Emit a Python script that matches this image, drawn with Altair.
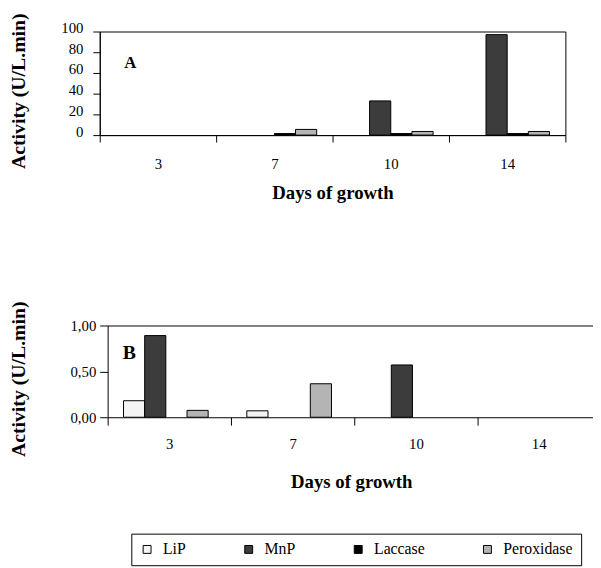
import altair as alt
import pandas as pd

FONT = "Liberation Serif"

days = ["3", "7", "10", "14"]
enzymes = ["LiP", "MnP", "Laccase", "Peroxidase"]
fills = ["#f4f4f4", "#3c3c3c", "#000000", "#b4b4b4"]

# Panel A: activity (U/L.min), one list per enzyme across days
a_lip = [0, 0, 0, 0]
a_mnp = [0, 0, 33, 97]
a_laccase = [0, 1.5, 1.5, 1.5]
a_perox = [0, 5.5, 3.5, 3.5]

# Panel B
b_lip = [0.18, 0.07, 0, 0]
b_mnp = [0.89, 0, 0.57, 0]
b_laccase = [0, 0, 0, 0]
b_perox = [0.075, 0.365, 0, 0]

a_ticks = [0, 20, 40, 60, 80, 100]
b_ticks = [0, 0.5, 1.0]


def table(series):
    rows = []
    for enz, vals in zip(enzymes, series):
        for d, v in zip(days, vals):
            rows.append({"day": d, "enzyme": enz, "value": v})
    return pd.DataFrame(rows)


df_a = table([a_lip, a_mnp, a_laccase, a_perox])
df_b = table([b_lip, b_mnp, b_laccase, b_perox])

fill_enc = alt.Fill(
    "enzyme:N",
    sort=enzymes,
    scale=alt.Scale(domain=enzymes, range=fills),
    legend=alt.Legend(
        title=None, orient="none", legendX=32, legendY=509,
        direction="horizontal", columns=4, columnPadding=55,
        symbolType="square", symbolSize=64, symbolStrokeColor="black",
        symbolStrokeWidth=1, labelFont=FONT, labelFontSize=16,
        labelColor="black", strokeColor="black", padding=8,
        labelOffset=8, fillColor="white",
    ),
)

base_axis = dict(
    labelFont=FONT, titleFont=FONT, labelColor="black", titleColor="black",
    domainColor="black", tickColor="black", labelFontSize=15,
    titleFontWeight="bold",
)

# ---------- Panel A ----------
bars_a = alt.Chart(df_a).transform_filter("datum.value > 0").mark_bar(
    stroke="black", strokeWidth=1
).encode(
    x=alt.X("day:N", sort=days, title="Days of growth",
            scale=alt.Scale(domain=days, paddingInner=0, paddingOuter=0),
            axis=alt.Axis(labelAngle=0, tickBand="extent", tickSize=7,
                          labelPadding=15, titleY=58, titleBaseline="middle",
                          titleFontSize=19, **base_axis)),
    y=alt.Y("value:Q", title="Activity (U/L.min)",
            scale=alt.Scale(domain=[0, 100], nice=False),
            axis=alt.Axis(values=a_ticks, tickSize=7, labelPadding=10, grid=False,
                          labelOffset=-4,
                          titleX=-82, titleY=60, titleBaseline="middle",
                          titleFontSize=20, **base_axis)),
    xOffset=alt.XOffset("enzyme:N", sort=enzymes,
                        scale=alt.Scale(domain=enzymes, paddingInner=0, paddingOuter=0.75)),
    fill=fill_enc,
)
label_a = alt.Chart(pd.DataFrame({"t": ["A"]})).mark_text(
    font=FONT, fontSize=17, fontWeight="bold", color="black"
).encode(x=alt.value(31), y=alt.value(32), text="t:N")

panel_a = alt.layer(bars_a, label_a).properties(
    width=472, height=105, view=alt.ViewBackground(stroke="black", strokeWidth=1)
)

# ---------- Panel B ----------
b_x_scale = alt.Scale(domain=days, paddingInner=0, paddingOuter=0, range=[8, 508])
bars_b = alt.Chart(df_b).transform_filter("datum.value > 0").mark_bar(
    stroke="black", strokeWidth=1
).encode(
    x=alt.X("day:N", sort=days, title="Days of growth", scale=b_x_scale,
            axis=alt.Axis(labelAngle=0, tickBand="extent", values=days[:3],
                          domain=False, tickSize=8, labelPadding=12, titleY=65,
                          titleX=255, titleBaseline="middle", titleFontSize=19,
                          **base_axis)),
    y=alt.Y("value:Q", title="Activity (U/L.min)",
            scale=alt.Scale(domain=[0, 1], nice=False),
            axis=alt.Axis(values=b_ticks, offset=-8, tickSize=8, labelPadding=4,
                          labelExpr="replace(format(datum.value, '.2f'), '.', ',')",
                          grid=True, gridColor="black", gridWidth=1,
                          gridOpacity={"condition": {"test": "datum.value == 0.5", "value": 0}, "value": 1},
                          titleX=-90, titleY=54, titleBaseline="middle",
                          titleFontSize=20, **base_axis)),
    xOffset=alt.XOffset("enzyme:N", sort=enzymes,
                        scale=alt.Scale(domain=enzymes, paddingInner=0, paddingOuter=0.63)),
    fill=fill_enc,
)
# label for the last day (its tick lies past the page edge)
last_day = alt.Chart(pd.DataFrame({"day": days[3:]})).mark_text(
    font=FONT, fontSize=15, color="black", baseline="top"
).encode(x=alt.X("day:N", sort=days, axis=None), y=alt.value(113), text="day:N")

label_b = alt.Chart(pd.DataFrame({"t": ["B"]})).mark_text(
    font=FONT, fontSize=20, fontWeight="bold", color="black"
).encode(x=alt.value(30), y=alt.value(28), text="t:N")

panel_b = alt.layer(bars_b, last_day, label_b).resolve_axis(
    x="independent"
).properties(
    width=498, height=93, view=alt.ViewBackground(stroke=None)
)

chart = alt.vconcat(panel_a, panel_b, spacing=99).resolve_scale(
    fill="shared"
).properties(
    padding={"left": 0, "top": 0, "right": 0, "bottom": 0}
).configure(background="white")

chart.save("out.html", embed_options={"renderer": "svg", "actions": False})
